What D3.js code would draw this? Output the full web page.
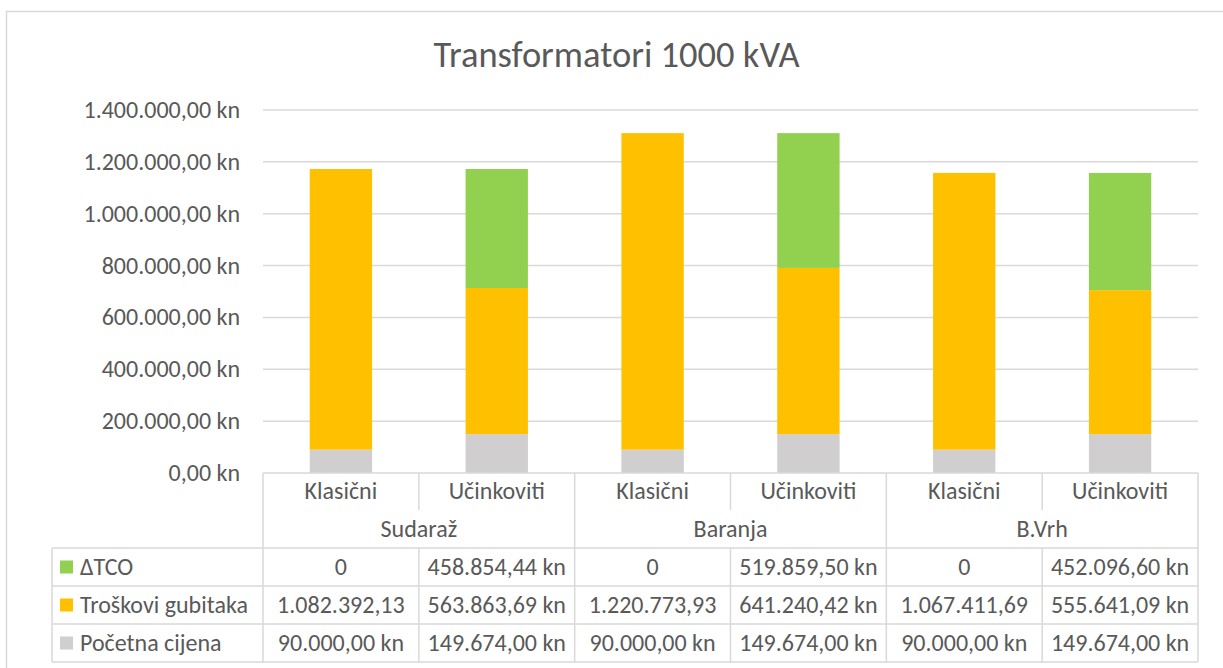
<!DOCTYPE html>
<html>
<head>
<meta charset="utf-8">
<script src="https://cdn.jsdelivr.net/npm/d3@7"></script>
<style>
  body { margin: 0; background: #fff; }
  svg text { font-family: Carlito, Calibri, "Open Sans", sans-serif; fill: #595959; }
</style>
</head>
<body>
<svg id="chart" width="1223" height="668"></svg>
<script>
const groups = ['Sudaraž', 'Baranja', 'B.Vrh'];
const types = ['Klasični', 'Učinkoviti'];
const seriesNames = ['ΔTCO', 'Troškovi gubitaka', 'Početna cijena'];
const colors = ['#92D050', '#FFC000', '#D0CECE'];

// one value per column: Sudaraž K, Sudaraž U, Baranja K, Baranja U, B.Vrh K, B.Vrh U
const pocetna = [90000, 149674, 90000, 149674, 90000, 149674];
const troskovi = [1082392.13, 563863.69, 1220773.93, 641240.42, 1067411.69, 555641.09];
const dtco = [0, 458854.44, 0, 519859.50, 0, 452096.60];

const yTicks = [0, 200000, 400000, 600000, 800000, 1000000, 1200000, 1400000];

const svg = d3.select('#chart');
const hr = d3.formatLocale({decimal: ',', thousands: '.', grouping: [3], currency: ['', ' kn']});
const fmt = hr.format(',.2f');
const kn = v => fmt(v) + ' kn';
// Excel drops "kn" where the cell is too narrow, zeros show as "0"
const cellText = v => v === 0 ? '0' : (v >= 1e6 ? fmt(v) : kn(v));

const plot = {left: 263, right: 1198, top: 110, bottom: 473};

const columns = [];
groups.forEach((g, gi) => types.forEach((t, ti) => columns.push({group: g, type: t, i: gi * 2 + ti})));

const x = d3.scaleBand().domain(columns.map(d => d.i)).range([plot.left, plot.right]);
const y = d3.scaleLinear().domain([0, 1400000]).range([plot.bottom, plot.top]);

// outer chart border (top and left visible)
svg.append('path')
  .attr('d', 'M6.5,668 V11.5 H1223')
  .attr('fill', 'none')
  .attr('stroke', '#d9d9d9')
  .attr('stroke-width', 1.5);

svg.append('text')
  .attr('x', 616.5)
  .attr('y', 67)
  .attr('text-anchor', 'middle')
  .style('font-size', '36.5px')
  .style('font-family', '"Carlito", "Calibri Light", Calibri, "Open Sans", sans-serif')
  .text('Transformatori 1000 kVA');

// gridlines + y labels
svg.append('g')
  .selectAll('line')
  .data(yTicks.filter(d => d > 0))
  .join('line')
    .attr('x1', plot.left).attr('x2', plot.right)
    .attr('y1', d => y(d)).attr('y2', d => y(d))
    .attr('stroke', '#d9d9d9')
    .attr('stroke-width', 1.5);

svg.append('g')
  .selectAll('text')
  .data(yTicks)
  .join('text')
    .attr('x', 240)
    .attr('y', d => y(d) + 8)
    .attr('text-anchor', 'end')
    .style('font-size', '24px')
    .text(d => kn(d));

// stacked bars
const rows = columns.map(c => ({i: c.i, pocetna: pocetna[c.i], troskovi: troskovi[c.i], dtco: dtco[c.i]}));
const stack = d3.stack().keys(['pocetna', 'troskovi', 'dtco'])(rows);
const stackColors = {pocetna: colors[2], troskovi: colors[1], dtco: colors[0]};
const barW = x.bandwidth() / 2.5;

svg.append('g')
  .selectAll('g')
  .data(stack)
  .join('g')
    .attr('fill', d => stackColors[d.key])
  .selectAll('rect')
  .data(d => d)
  .join('rect')
    .attr('x', d => x(d.data.i) + (x.bandwidth() - barW) / 2)
    .attr('y', d => y(d[1]))
    .attr('width', barW)
    .attr('height', d => y(d[0]) - y(d[1]));

// data table
const rowY = [548, 586, 624, 662];
const legendLeft = 52;
const lines = svg.append('g').attr('stroke', '#d9d9d9').attr('stroke-width', 1.5);

lines.append('line').attr('x1', plot.left).attr('x2', plot.right).attr('y1', plot.bottom).attr('y2', plot.bottom);
rowY.forEach(ry => lines.append('line').attr('x1', legendLeft).attr('x2', plot.right).attr('y1', ry).attr('y2', ry));
lines.append('line').attr('x1', legendLeft).attr('x2', legendLeft).attr('y1', rowY[0]).attr('y2', rowY[3]);

columns.forEach(c => {
  const xl = x(c.i);
  const full = c.i % 2 === 0;
  lines.append('line')
    .attr('x1', xl).attr('x2', xl)
    .attr('y1', plot.bottom)
    .attr('y2', full ? rowY[3] : 510);
  if (!full) {
    lines.append('line').attr('x1', xl).attr('x2', xl).attr('y1', rowY[0]).attr('y2', rowY[3]);
  }
});
lines.append('line').attr('x1', plot.right).attr('x2', plot.right).attr('y1', plot.bottom).attr('y2', rowY[3]);

const txt = svg.append('g').style('font-size', '24px').attr('text-anchor', 'middle');

txt.selectAll('text.type')
  .data(columns)
  .join('text')
    .attr('class', 'type')
    .attr('x', d => x(d.i) + x.bandwidth() / 2)
    .attr('y', 499)
    .text(d => d.type);

txt.selectAll('text.group')
  .data(groups)
  .join('text')
    .attr('class', 'group')
    .attr('x', (d, gi) => x(gi * 2) + x.bandwidth())
    .attr('y', 537)
    .text(d => d);

const tableSeries = [dtco, troskovi, pocetna];
tableSeries.forEach((vals, ri) => {
  const cy = (rowY[ri] + rowY[ri + 1]) / 2;
  txt.selectAll('text.r' + ri)
    .data(vals)
    .join('text')
      .attr('class', 'r' + ri)
      .attr('x', (d, i) => x(i) + x.bandwidth() / 2)
      .attr('y', cy + 7.5)
      .text(d => cellText(d));

  svg.append('rect')
    .attr('x', 60)
    .attr('y', cy - 6.5)
    .attr('width', 13)
    .attr('height', 13)
    .attr('fill', colors[ri]);

  svg.append('text')
    .attr('x', 80)
    .attr('y', cy + 7.5)
    .style('font-size', '24px')
    .text(seriesNames[ri]);
});
</script>
</body>
</html>
